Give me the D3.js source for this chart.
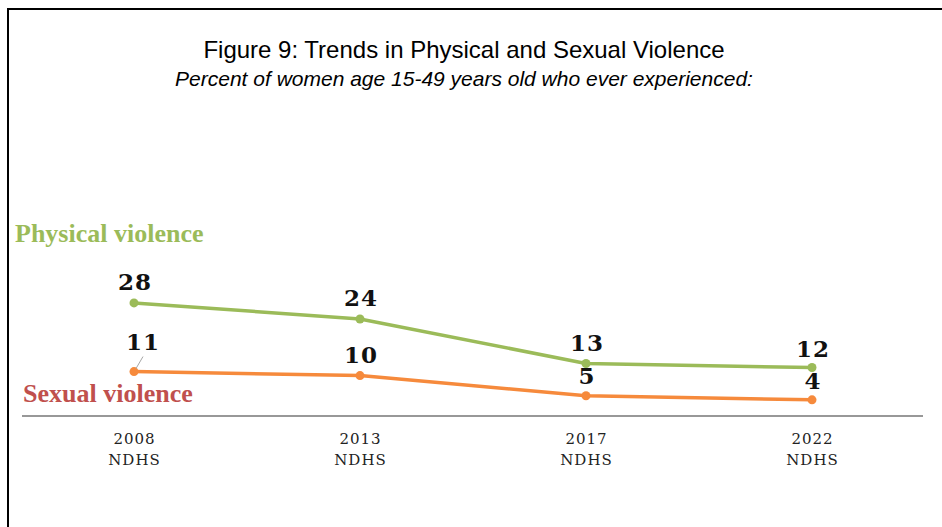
<!DOCTYPE html>
<html>
<head>
<meta charset="utf-8">
<script src="https://cdn.jsdelivr.net/npm/d3@7"></script>
<style>
  html, body { margin: 0; padding: 0; background: #fff; }
  svg { display: block; }
</style>
</head>
<body>
<svg id="chart" width="942" height="527"></svg>
<script>
// Survey rounds and the share of women (15-49) who ever experienced violence
const surveys = ["2008", "2013", "2017", "2022"];
const surveyTag = "NDHS";
const physical = [28, 24, 13, 12];
const sexual = [11, 10, 5, 4];

const svg = d3.select("#chart");
const W = 942, H = 527;

// Outer frame (continues past the right and bottom edges)
svg.append("rect")
  .attr("x", 8).attr("y", 9).attr("width", W + 20).attr("height", H + 20)
  .attr("fill", "none").attr("stroke", "#000").attr("stroke-width", 2);

// Titles
svg.append("text")
  .attr("x", 464).attr("y", 58).attr("text-anchor", "middle")
  .style("font-family", "'Liberation Sans', Arial, sans-serif")
  .style("font-size", "24px").attr("fill", "#000")
  .text("Figure 9: Trends in Physical and Sexual Violence");
svg.append("text")
  .attr("x", 464).attr("y", 86).attr("text-anchor", "middle")
  .style("font-family", "'Liberation Sans', Arial, sans-serif")
  .style("font-style", "italic")
  .style("font-size", "21px").attr("fill", "#000")
  .text("Percent of women age 15-49 years old who ever experienced:");

// Scales
const x = d3.scalePoint().domain(surveys).range([134, 812]);
const y = d3.scaleLinear().domain([0, 100]).range([416, 12]);

// Baseline axis
svg.append("line")
  .attr("x1", 22).attr("x2", 923).attr("y1", y(0)).attr("y2", y(0))
  .attr("stroke", "#333").attr("stroke-width", 1.2);

// Category labels: year over survey name
const cat = svg.append("g")
  .style("font-family", "'DejaVu Serif', 'Liberation Serif', serif")
  .style("font-size", "15px").attr("fill", "#222");
surveys.forEach(s => {
  const t = cat.append("text").attr("text-anchor", "middle").attr("x", x(s))
    .style("letter-spacing", "1px");
  t.append("tspan").attr("x", x(s) + 0.5).attr("y", 444).text(s);
  t.append("tspan").attr("x", x(s) + 0.5).attr("y", 465).text(surveyTag);
});

const line = d3.line().x(d => x(d.s)).y(d => y(d.v));

function drawSeries(values, color) {
  const pts = values.map((v, i) => ({ s: surveys[i], v }));
  svg.append("path").datum(pts)
    .attr("d", line).attr("fill", "none")
    .attr("stroke", color).attr("stroke-width", 3.5)
    .attr("stroke-linejoin", "round");
  svg.append("g").selectAll("circle").data(pts).join("circle")
    .attr("cx", d => x(d.s)).attr("cy", d => y(d.v)).attr("r", 4.5)
    .attr("fill", color);
  return pts;
}

const green = "#9BBB59", orange = "#F68A3C";
const pPts = drawSeries(physical, green);
const sPts = drawSeries(sexual, orange);

// Value labels (dx shifts a label sideways, dy lifts it above the point)
const valFont = "'DejaVu Serif', 'Liberation Serif', serif";
function valueLabels(pts, dxs, dys) {
  svg.append("g").selectAll("text").data(pts).join("text")
    .attr("x", (d, i) => x(d.s) + dxs[i]).attr("y", (d, i) => y(d.v) - dys[i])
    .attr("text-anchor", "middle")
    .style("font-family", valFont).style("font-weight", "bold")
    .style("font-size", "23px").style("letter-spacing", "1px")
    .attr("fill", "#111")
    .text(d => d.v);
}
valueLabels(pPts, [1, 1, 1, 1], [13, 13, 12, 11]);
valueLabels(sPts, [9, 1, 1, 1], [22, 13, 12, 11]);

// Leader line for the first sexual-violence label
svg.append("line")
  .attr("x1", x(surveys[0]) + 9).attr("y1", y(sexual[0]) - 15)
  .attr("x2", x(surveys[0]) + 2).attr("y2", y(sexual[0]) - 3)
  .attr("stroke", "#a6a6a6").attr("stroke-width", 1);

// Series names
svg.append("text").attr("x", 15).attr("y", 242)
  .style("font-family", "'Liberation Serif', serif").style("font-weight", "bold")
  .style("font-size", "26px").attr("fill", green)
  .text("Physical violence");
svg.append("text").attr("x", 23).attr("y", 402)
  .style("font-family", "'Liberation Serif', serif").style("font-weight", "bold")
  .style("font-size", "26px").attr("fill", "#C0504D")
  .text("Sexual violence");
</script>
</body>
</html>
